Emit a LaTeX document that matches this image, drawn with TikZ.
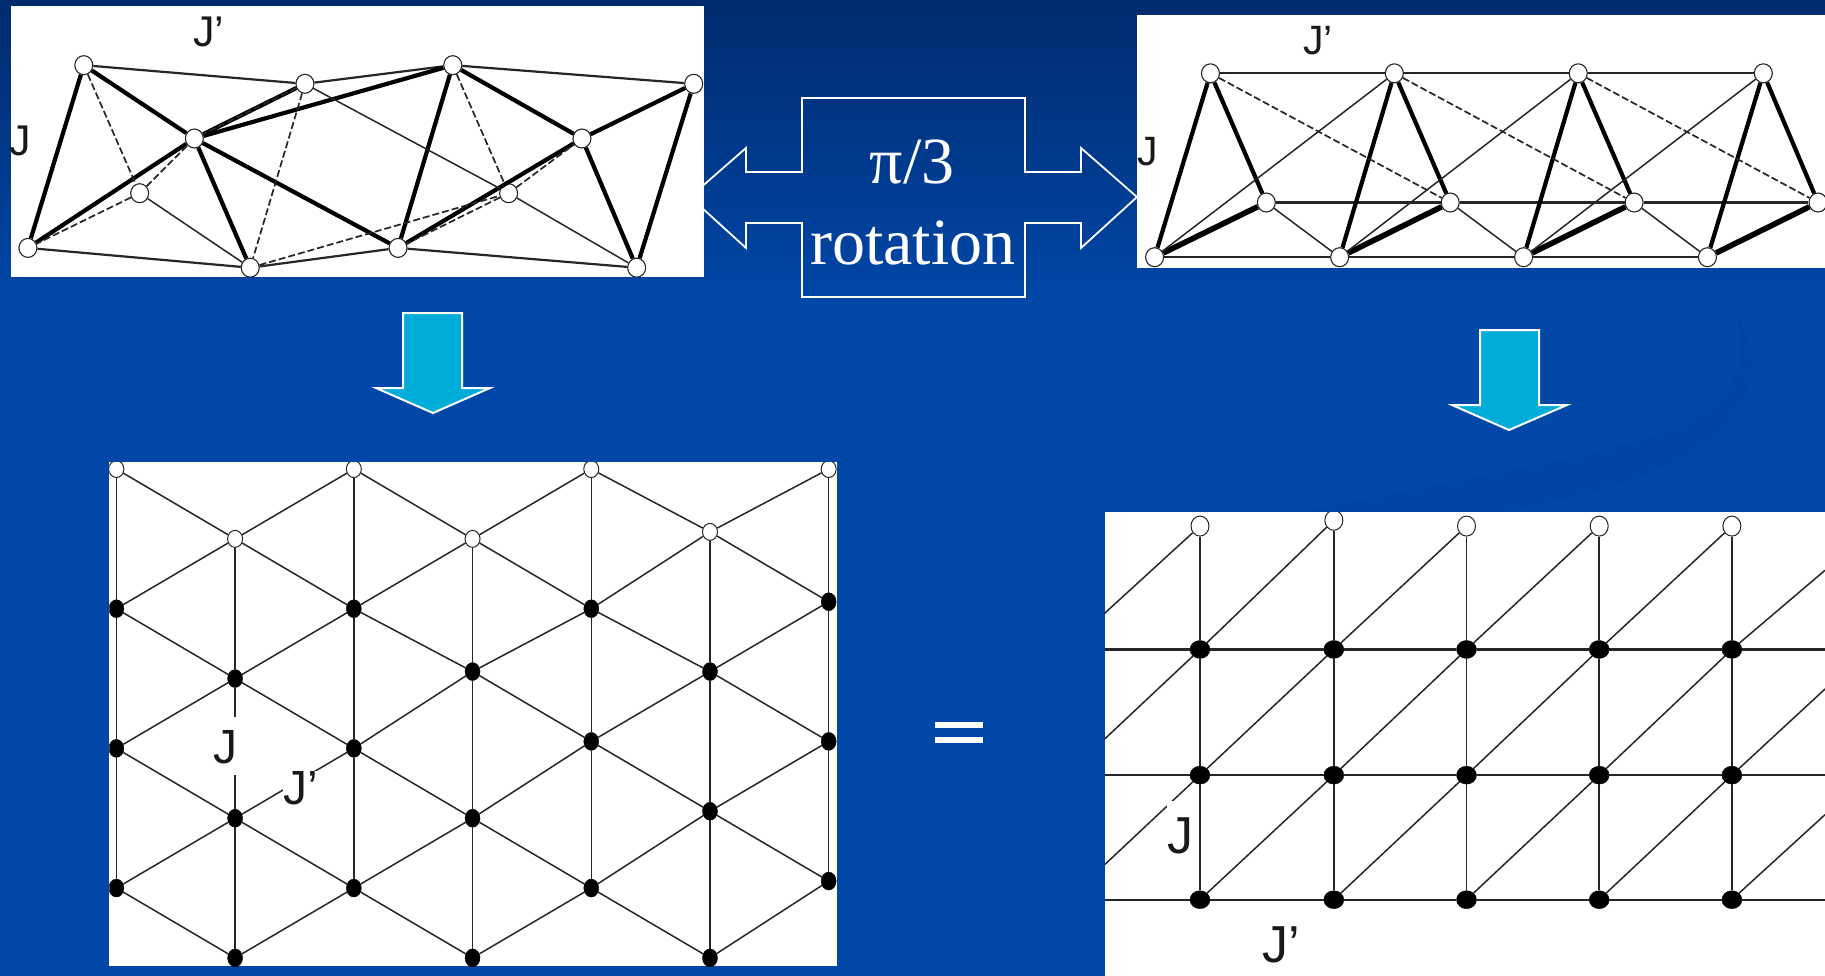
\documentclass[tikz,border=0pt]{standalone}
\usepackage{fontspec}
\usetikzlibrary{shapes.geometric}
\setmainfont{Liberation Serif}
\newfontfamily\arialf{Liberation Sans}
\definecolor{bgtop}{HTML}{012B6E}
\definecolor{bgmain}{HTML}{0047A8}
\definecolor{swoosh}{HTML}{0045A3}
\definecolor{cyanarrow}{HTML}{00ACD8}
\tikzset{
  panel/.style={fill=white,draw=none},
  thinl/.style={draw=black!85,line width=1.5pt},
  midl/.style={draw=black!85,line width=2.2pt},
  heavy/.style={draw=black,line width=4.2pt},
  heavier/.style={draw=black,line width=5.6pt},
  dashl/.style={draw=black!85,line width=1.7pt,dash pattern=on 7pt off 3pt},
  opennode/.style={ellipse,draw=black!85,fill=white,line width=1.1pt,inner sep=0pt,minimum width=18pt,minimum height=19pt},
  opensmall/.style={ellipse,draw=black!85,fill=white,line width=1pt,inner sep=0pt,minimum width=15pt,minimum height=17pt},
  fillsmall/.style={ellipse,draw=black,fill=black,inner sep=0pt,minimum width=15pt,minimum height=18pt},
  openfour/.style={ellipse,draw=black!85,fill=white,line width=1pt,inner sep=0pt,minimum width=18pt,minimum height=20pt},
  fillfour/.style={ellipse,draw=black,fill=black,inner sep=0pt,minimum width=20pt,minimum height=18pt},
  lbl/.style={font=\arialf,text=black!90,inner sep=0pt,anchor=base west},
  outl/.style={draw=white,line width=1.8pt,line join=miter},
  downarrow/.style={draw=white,line width=2pt,fill=cyanarrow,line join=miter},
  bigtext/.style={font=\fontsize{66}{70}\selectfont,text=white,inner sep=0pt,anchor=base},
  bar/.style={fill=white,draw=none},
  ov/.style={x=1.1639pt,y=-1.1639pt}
}
\begin{document}
\begin{tikzpicture}[x=1pt,y=-1pt]
\useasboundingbox (0,0) rectangle (1825,976);
% background
\fill[bgmain] (0,0) rectangle (1825,976);
\shade[top color=bgtop,bottom color=bgmain] (0,0) rectangle (1825,300);
\fill[swoosh] (1723,295) .. controls (1765,345) and (1765,400) .. (1702,447)
  .. controls (1650,480) and (1570,500) .. (1501,512) -- (1300,512)
  .. controls (1450,480) and (1600,460) .. (1680,425)
  .. controls (1750,390) and (1755,340) .. cycle;

% double arrow
\draw[outl] (690,197) -- (746,148) -- (746,172) -- (802,172) -- (802,98) -- (1025,98) -- (1025,172) -- (1081,172) -- (1081,148) -- (1137,197)
  -- (1081,248) -- (1081,223) -- (1025,223) -- (1025,297) -- (802,297) -- (802,223) -- (746,223) -- (746,248) -- cycle;
\node[bigtext] (pi) at (912,184) {π/3};
\node[bigtext] (rot) at (913,265) {rotation};

% down arrows
\draw[downarrow] (403,313) -- (462,313) -- (462,388) -- (490,388) -- (433,413) -- (376,388) -- (403,388) -- cycle;
\draw[downarrow] (1480,330) -- (1539,330) -- (1539,405) -- (1567,405) -- (1509,430) -- (1452,405) -- (1480,405) -- cycle;

% equals
\fill[bar] (935,722) rectangle (983,728);
\fill[bar] (935,737) rectangle (983,743);

% ---------- panel 1
\fill[panel] (10.5,6) rectangle (704,277.5);
\begin{scope}[ov]
\clip (9,5) rectangle (605,238.4);
\foreach \n/\x/\y in {a/72/56,b/262/72,c/389/56,d/596/72,e/167/119,f/500/119,g/120/166,h/437/166,i/24/213,j/215/230,k/342/213,l/547/230}
  \node[opennode] (p\n) at (\x,\y) {};
\foreach \u/\v in {a/b,b/c,c/d,i/j,j/k,k/l} \draw[midl] (p\u) -- (p\v);
\foreach \u/\v in {a/i,a/e,e/i,e/j,e/c,e/b,e/k,c/f,c/k,f/d,f/k,f/l,d/l} \draw[heavy] (p\u) -- (p\v);
\foreach \u/\v in {g/j,b/h,h/l} \draw[thinl] (p\u) -- (p\v);
\foreach \u/\v in {a/g,g/e,g/i,b/e,b/j,c/h,h/f,h/k,j/h} \draw[dashl] (p\u) -- (p\v);
\end{scope}
\node[lbl,font=\arialf\fontsize{43}{45}\selectfont] (p1jp) at (193,47) {J’};
\node[lbl,font=\arialf\fontsize{43}{45}\selectfont] (p1j) at (9,156) {J};

% ---------- panel 2
\fill[panel] (1137,15) rectangle (1825,268.5);
\begin{scope}[ov]
\clip (977,13) rectangle (1568.1,230.7);
\foreach \i/\a/\b/\c in {1/1040/1088/992,2/1198/1246/1151,3/1356/1404/1309,4/1515/1562/1467}{
  \node[opennode] (t\i) at (\a,63) {};
  \node[opennode] (m\i) at (\b,174) {};
  \node[opennode] (u\i) at (\c,221) {};
}
\foreach \u/\v in {t1/t2,t2/t3,t3/t4,m1/m2,m2/m3,m3/m4,u1/u2,u2/u3,u3/u4} \draw[midl] (\u) -- (\v);
\foreach \i in {1,2,3,4}{
  \draw[heavy] (t\i) -- (u\i);
  \draw[heavy] (t\i) -- (m\i);
  \draw[heavier] (u\i) -- (m\i);
}
\foreach \i/\j in {1/2,2/3,3/4}{
  \draw[thinl] (u\i) -- (t\j);
  \draw[thinl] (m\i) -- (u\j);
  \draw[dashl] (t\i) -- (m\j);
}
\end{scope}
\node[lbl,font=\arialf\fontsize{41}{43}\selectfont] (p2jp) at (1303,55) {J’};
\node[lbl,font=\arialf\fontsize{41}{43}\selectfont] (p2j) at (1137,166) {J};

% ---------- panel 3
\fill[panel] (109.4,462) rectangle (837,966);
\begin{scope}[ov]
\clip (94,397) rectangle (719,830);
\foreach \c/\x/\a/\b/\d/\e in {0/100/403/523/643/763,1/202/463/583/703/823,2/304/403/523/643/763,3/406/463/577/703/823,4/508/403/523/637/763,5/610/457/577/697/823,6/712/403/517/637/757}{
  \node[opensmall] (q\c-0) at (\x,\a) {};
  \node[fillsmall] (q\c-1) at (\x,\b) {};
  \node[fillsmall] (q\c-2) at (\x,\d) {};
  \node[fillsmall] (q\c-3) at (\x,\e) {};
  \draw[thinl] (q\c-0) -- (q\c-1);
  \draw[thinl] (q\c-1) -- (q\c-2);
  \draw[thinl] (q\c-2) -- (q\c-3);
}
\foreach \p/\q in {0/1,2/1,2/3,4/3,4/5,6/5}{
  \foreach \k in {0,1,2,3} \draw[thinl] (q\p-\k) -- (q\q-\k);
  \foreach \k/\m in {0/1,1/2,2/3} \draw[thinl] (q\q-\k) -- (q\p-\m);
}
\end{scope}
\node[lbl,fill=white,font=\arialf\fontsize{48}{50}\selectfont,text height=46pt,text depth=12pt] (p3j) at (213,763) {J};
\node[lbl,fill=white,font=\arialf\fontsize{48}{50}\selectfont] (p3jp) at (283,804) {J’};

% ---------- panel 4
\fill[panel] (1104.6,512) rectangle (1825,976);
\begin{scope}[ov]
\clip (949,440) rectangle (1568.1,839);
\foreach \c/\x/\a in {1/1031/452,2/1146/447,3/1260/452,4/1374/452,5/1488/452}{
  \node[openfour] (r\c-0) at (\x,\a) {};
  \node[fillfour] (r\c-1) at (\x,558) {};
  \node[fillfour] (r\c-2) at (\x,666) {};
  \node[fillfour] (r\c-3) at (\x,773) {};
  \draw[thinl] (r\c-0) -- (r\c-1);
  \draw[thinl] (r\c-1) -- (r\c-2);
  \draw[thinl] (r\c-2) -- (r\c-3);
}
\coordinate (l1) at (949,527);
\coordinate (l2) at (949,635);
\coordinate (l3) at (949,743);
\coordinate (r1) at (1568,490);
\coordinate (r2) at (1568,592);
\coordinate (r3) at (1568,700);
\coordinate (hl1) at (949,558);
\coordinate (hl2) at (949,666);
\coordinate (hl3) at (949,773);
\coordinate (hr1) at (1568,558);
\coordinate (hr2) at (1568,666);
\coordinate (hr3) at (1568,773);
\foreach \k in {1,2,3}{
  \draw[midl] (hl\k) -- (r1-\k) -- (r2-\k) -- (r3-\k) -- (r4-\k) -- (r5-\k) -- (hr\k);
}
\draw[thinl] (l1) -- (r1-0);
\draw[thinl] (l2) -- (r1-1);
\draw[thinl] (r1-1) -- (r2-0);
\draw[thinl] (l3) -- (r1-2);
\draw[thinl] (r1-2) -- (r2-1);
\draw[thinl] (r2-1) -- (r3-0);
\draw[thinl] (r1-3) -- (r2-2);
\draw[thinl] (r2-2) -- (r3-1);
\draw[thinl] (r3-1) -- (r4-0);
\draw[thinl] (r2-3) -- (r3-2);
\draw[thinl] (r3-2) -- (r4-1);
\draw[thinl] (r4-1) -- (r5-0);
\draw[thinl] (r3-3) -- (r4-2);
\draw[thinl] (r4-2) -- (r5-1);
\draw[thinl] (r5-1) -- (r1);
\draw[thinl] (r4-3) -- (r5-2);
\draw[thinl] (r5-2) -- (r2);
\draw[thinl] (r5-3) -- (r3);
\end{scope}
\node[lbl,fill=white,font=\arialf\fontsize{52}{54}\selectfont,text height=52pt] (p4j) at (1167,853) {J};
\node[lbl,font=\arialf\fontsize{52}{54}\selectfont] (p4jp) at (1262,962) {J’};
\end{tikzpicture}
\end{document}
